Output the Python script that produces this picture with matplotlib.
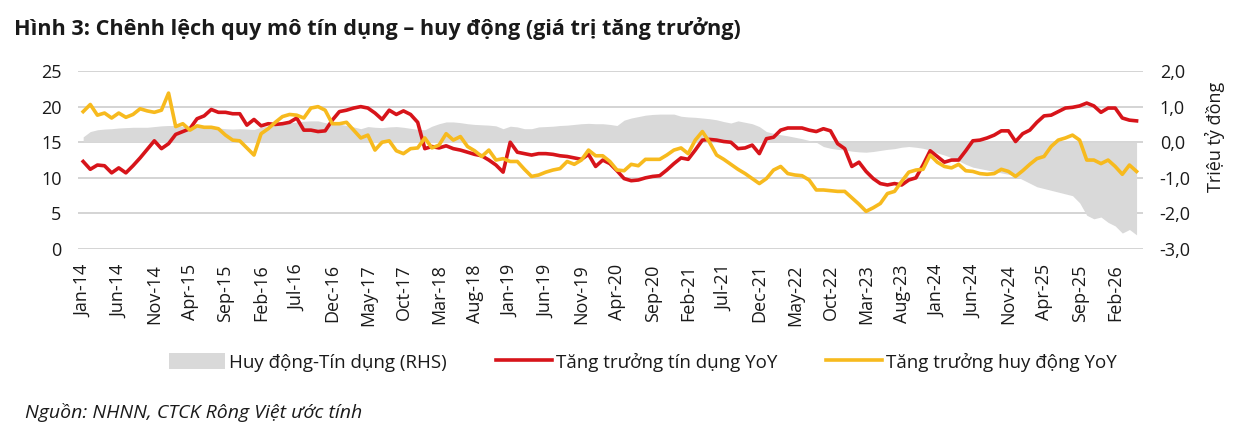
import numpy as np
import pandas as pd
import matplotlib
matplotlib.use("Agg")
import matplotlib.pyplot as plt
from matplotlib.patches import Patch
from matplotlib.lines import Line2D
from matplotlib.ticker import FuncFormatter

plt.rcParams['font.family'] = ['Open Sans', 'DejaVu Sans']

# monthly data, Jan-14 .. May-26
months = pd.date_range("2014-01-01", periods=149, freq="MS")

credit_yoy = [
    12.3, 11.2, 11.8, 11.7, 10.7, 11.4, 10.7, 11.7, 12.8, 14.0, 15.2, 14.1, 14.8, 16.1, 16.5, 16.9,
    18.3, 18.7, 19.6, 19.2, 19.2, 19.0, 19.0, 17.4, 18.2,
    17.3, 17.6, 17.5, 17.6, 17.8, 18.4, 16.7, 16.7, 16.5, 16.6, 18.1, 19.3, 19.5, 19.8, 20.0, 19.8,
    19.1, 18.2, 19.5, 18.9, 19.4, 18.9, 17.8,
    14.1, 14.4, 14.2, 14.5, 14.1, 13.9, 13.6, 13.3, 13.1, 12.5, 11.8, 10.8, 15.0, 13.6, 13.4, 13.2,
    13.4, 13.4, 13.3, 13.1, 13.0, 12.8, 12.6, 13.3, 11.6,
    12.5, 12.0, 11.0, 9.9, 9.6, 9.7, 10.0, 10.2, 10.3, 11.1, 12.0, 12.8, 12.6, 13.9, 15.3, 15.4,
    15.3, 15.1, 15.0, 14.1, 14.2, 14.6, 13.4, 15.5, 15.7,
    16.7, 17.0, 17.0, 17.0, 16.7, 16.5, 16.9, 16.6, 14.8, 14.1, 11.6, 12.2, 10.9, 9.9, 9.2, 9.0,
    9.2, 9.0, 9.7, 10.0, 11.8, 13.8, 13.0, 12.2, 12.5,
    12.5, 13.8, 15.2, 15.3, 15.6, 16.0, 16.6, 16.6, 15.1, 16.2, 16.7, 17.8, 18.7, 18.8, 19.3, 19.8,
    19.9, 20.1, 20.5, 20.1, 19.2, 19.8, 19.8, 18.4, 18.1, 18.0,
]

deposit_yoy = [
    19.3, 20.3, 18.8, 19.1, 18.4, 19.1, 18.5, 18.9, 19.7, 19.4, 19.2, 19.5, 21.9, 17.2, 17.6, 16.7,
    17.3, 17.1, 17.1, 16.9, 16.0, 15.3, 15.2, 14.2, 13.2,
    16.2, 16.9, 17.8, 18.6, 18.9, 18.8, 18.4, 19.8, 20.0, 19.5, 17.6, 17.6, 17.8, 16.7, 15.6, 16.0,
    13.9, 15.0, 15.2, 13.8, 13.4, 14.1, 14.2, 15.6, 14.2,
    14.6, 16.2, 15.3, 15.8, 14.4, 13.8, 13.0, 13.9, 12.5, 12.7, 12.3, 12.3, 11.2, 10.2, 10.4, 10.8,
    11.1, 11.3, 12.3, 11.9, 12.5, 13.9, 13.1,
    13.1, 12.3, 11.1, 11.0, 11.9, 11.7, 12.6, 12.6, 12.6, 13.2, 13.9, 14.2, 13.4, 15.3, 16.5, 15.0,
    13.2, 12.6, 11.9, 11.2, 10.6, 9.9, 9.2, 9.9, 11.1,
    11.6, 10.6, 10.4, 10.3, 9.7, 8.3, 8.3, 8.2, 8.1, 8.1, 7.2, 6.3, 5.3, 5.8, 6.4, 7.8,
    8.1, 9.5, 10.8, 11.1, 11.2, 13.2, 12.2, 11.6, 11.4,
    11.9, 11.0, 10.9, 10.6, 10.5, 10.6, 11.2, 10.9, 10.2, 11.0, 11.9, 12.7, 13.0, 14.4, 15.3, 15.6,
    16.0, 15.3, 12.5, 12.5, 12.0, 12.5, 11.6, 10.5, 11.8, 10.9,
]

# deposit minus credit, million bn VND (RHS)
gap_rhs = [
    0.15, 0.30, 0.35, 0.37, 0.38, 0.40, 0.41, 0.42, 0.42, 0.42, 0.44, 0.46, 0.47, 0.47, 0.45, 0.44,
    0.43, 0.42, 0.41, 0.40, 0.38, 0.37, 0.38, 0.37, 0.36,
    0.42, 0.46, 0.49, 0.51, 0.54, 0.57, 0.59, 0.60, 0.60, 0.55, 0.51, 0.51, 0.47, 0.43, 0.38, 0.44,
    0.42, 0.41, 0.43, 0.44, 0.42, 0.39, 0.36,
    0.35, 0.45, 0.52, 0.57, 0.57, 0.55, 0.52, 0.50, 0.49, 0.48, 0.46, 0.38, 0.45, 0.43, 0.38, 0.38,
    0.43, 0.44, 0.45, 0.47, 0.48, 0.50, 0.52, 0.53, 0.52,
    0.52, 0.50, 0.47, 0.62, 0.68, 0.72, 0.76, 0.78, 0.79, 0.79, 0.79, 0.73, 0.71, 0.70, 0.68, 0.66,
    0.63, 0.58, 0.54, 0.60, 0.56, 0.52, 0.44, 0.30, 0.25,
    0.21, 0.18, 0.14, 0.10, 0.05, 0.0, -0.12, -0.17, -0.20, -0.22, -0.25, -0.27, -0.28, -0.26, -0.23, -0.20,
    -0.18, -0.14, -0.12, -0.14, -0.17, -0.22, -0.30, -0.36, -0.43,
    -0.52, -0.62, -0.70, -0.74, -0.78, -0.82, -0.86, -0.90, -0.95, -1.05, -1.15, -1.25, -1.30, -1.35, -1.40, -1.45,
    -1.50, -1.70, -2.05, -2.15, -2.10, -2.25, -2.35, -2.55, -2.45, -2.60,
]

tick_labels = [m.strftime("%b-%y") for m in months][::5]

RED = "#D7141A"
YELLOW = "#F7BA1E"
GRAY = "#D9D9D9"
TXT = "#1a1a1a"

x = np.arange(len(months))

fig = plt.figure(figsize=(12.41, 4.48), dpi=100)
ax2 = fig.add_axes([0.063, 0.444, 0.858, 0.3975])
ax = ax2.twinx()

# right axis: gap area + grid (behind)
ax2.fill_between(x, 0, gap_rhs, color=GRAY, lw=0, zorder=2)
ax2.set_ylim(-3, 2)
ax2.set_yticks(np.arange(-3, 2.1, 1))
ax2.yaxis.grid(True, color="#d4d4d4", lw=1.4, zorder=0)
ax2.set_axisbelow(True)

# left axis: growth lines (in front)
ax.plot(x, credit_yoy, color=RED, lw=2.6, solid_joinstyle="round", zorder=3)
ax.plot(x, deposit_yoy, color=YELLOW, lw=2.6, solid_joinstyle="round", zorder=3)
ax.set_ylim(0, 25)
ax.set_yticks(np.arange(0, 26, 5))

ax.yaxis.tick_left()
ax2.yaxis.tick_right()

ax2.set_xlim(-0.7, 148.9)
ax2.set_xticks(x[::5])
ax2.set_xticklabels(tick_labels, rotation=90, fontsize=13, color=TXT)

ax2.yaxis.set_major_formatter(FuncFormatter(lambda v, p: f"{v:.1f}".replace(".", ",")))
ax2.tick_params(axis="y", length=0, pad=12, labelsize=13, colors=TXT)
ax.tick_params(axis="y", length=0, pad=12, labelsize=13, colors=TXT)
ax2.tick_params(axis="x", length=0, pad=11)

for a in (ax, ax2):
    for s in a.spines.values():
        s.set_visible(False)

fig.text(1215 / 1241, 1 - 137 / 448, "Triệu tỷ đồng", rotation=90, ha="center", va="center",
         fontsize=13, color=TXT)

fig.text(14 / 1241, 1 - 28 / 448,
         "Hình 3: Chênh lệch quy mô tín dụng – huy động (giá trị tăng trưởng)",
         fontsize=15.6, fontweight="bold", color=TXT, ha="left", va="center")

fig.text(25 / 1241, 1 - 412 / 448, "Nguồn: NHNN, CTCK Rông Việt ước tính",
         fontsize=14, style="italic", color=TXT, ha="left", va="center")

handles = [Patch(facecolor=GRAY, edgecolor="none"),
           Line2D([0], [0], color=RED, lw=2.6),
           Line2D([0], [0], color=YELLOW, lw=2.6)]
labels = ["Huy động-Tín dụng (RHS)", "Tăng trưởng tín dụng YoY", "Tăng trưởng huy động YoY"]
fig.legend(handles, labels, loc="center", bbox_to_anchor=(0.518, 1 - 362 / 448), ncol=3,
           frameon=False, fontsize=13.5, handlelength=3.0, handleheight=1.0,
           handletextpad=0.2, columnspacing=2.6, labelcolor=TXT)

fig.savefig("out.png", dpi=100)
